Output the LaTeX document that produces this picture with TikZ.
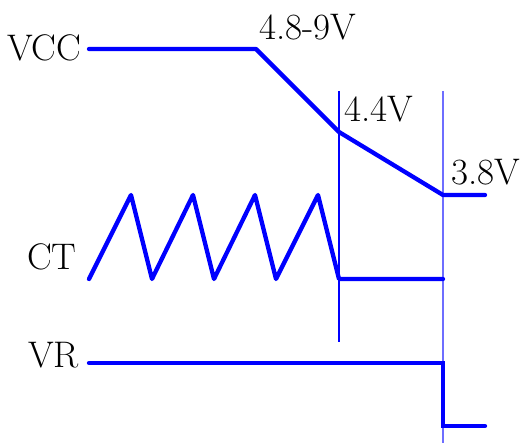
\documentclass[tikz,border=0pt]{standalone}
\definecolor{wblue}{RGB}{0,0,255}
\definecolor{lblue}{RGB}{110,110,255}
\begin{document}
\begin{tikzpicture}[x=1pt,y=-1pt,
  wave/.style={draw=wblue, line width=4.3pt, line cap=round, line join=round},
  guide/.style={draw=wblue, line width=1.2pt},
  guidelight/.style={draw=lblue, line width=1.3pt},
  lbl/.style={inner sep=0pt, anchor=base west, font=\fontsize{37}{40}\selectfont}]
\useasboundingbox (0,0) rectangle (531,443);
% guides
\draw[guide] (339,91) -- (339,342);
\draw[guidelight] (443,91) -- (443,443);
% VCC
\draw[wave] (89,49) -- (256,49) -- (339,132) -- (443,195) -- (485,195);
% CT
\draw[wave] (89,279) -- (131,195) -- (152,279) -- (193,195) -- (214,279) -- (255,195) -- (276,279) -- (318,195) -- (339,279) -- (443,279);
% VR
\draw[wave, line join=miter] (89,363) -- (443,363) -- (443,426) -- (485,426);
% labels
\node[lbl] (vcc) at (7,61) {VCC};
\node[lbl] (v1) at (259,40) {4.8-9V};
\node[lbl] (v2) at (344,122) {4.4V};
\node[lbl] (v3) at (451,185) {3.8V};
\node[lbl] (ct) at (27,270) {CT};
\node[lbl] (vr) at (28,368) {VR};
\end{tikzpicture}
\end{document}
